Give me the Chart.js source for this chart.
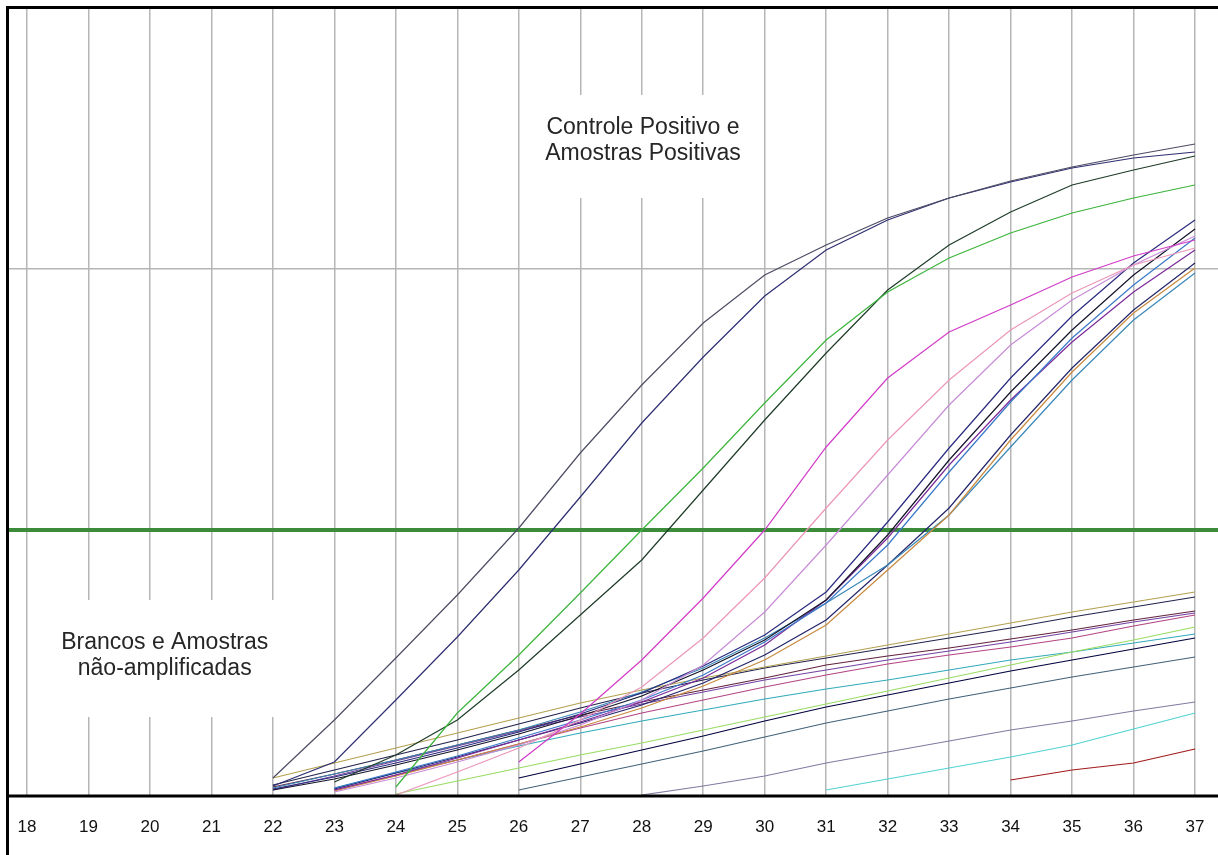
<!DOCTYPE html>
<html><head><meta charset="utf-8">
<script src="https://cdn.jsdelivr.net/npm/chart.js@4.4.0/dist/chart.umd.min.js"></script>
<style>html,body{margin:0;padding:0;background:#fff;overflow:hidden}</style>
</head><body>
<canvas id="c" width="1218" height="855" style="width:1218px;height:855px;display:block"></canvas>
<script>
// ---- axis / ticks ----
const cycleTicks = [18,19,20,21,22,23,24,25,26,27,28,29,30,31,32,33,34,35,36,37];
const xRange = [17.707, 37.374];
const yRange = [0, 786];
const gridLevels = [526];
const thresholdLevel = [265, 265];

// ---- curves (fluorescence, arbitrary units), one value per cycle from its start cycle ----
const posA  = [17,75,137,200,267,342,410,472,520,550,577,597,614,628,640,651];
const posB  = [9,33,95,158,225,298,372,438,499,545,575,597,613,627,637,643];
const posC  = [8,82,140,202,265,327,392,455,503,537,562,582,597,610];
const posD  = [13,40,75,125,180,235,305,375,442,505,550,583,610,625,639];
const midM1 = [33,81,135,197,265,348,417,463,490,518,539,555];
const midM2 = [0,23,47,75,108,157,217,287,355,415,465,502,530,547];
const midM3 = [3,17,33,50,70,95,130,183,250,320,390,450,495,530,559];
const midN1 = [6,18,32,47,63,81,102,129,160,203,273,347,417,479,532,575];
const midN2 = [5,16,30,45,61,79,99,125,155,195,260,335,403,465,520,566];
const midN3 = [7,23,39,57,75,95,120,153,192,250,323,393,457,510,557];
const midN4 = [5,20,37,55,73,93,117,150,195,257,330,395,453,503,545];
const midN5 = [4,19,35,51,68,87,109,135,170,225,280,355,423,482,527];
const midN6 = [7,21,35,50,65,83,103,127,157,192,230,280,348,415,475,522];
const midN7 = [6,22,38,55,72,90,112,140,175,230,287,360,427,485,532];
const lowL1 = [17,32,47,62,77,92,105,117,128,139,150,161,172,183,193,203];
const lowL2 = [10,25,40,55,71,87,102,115,127,137,147,157,167,178,188,198];
const lowL3 = [8,21,35,50,65,80,93,105,117,130,139,147,156,165,175,184];
const lowL4 = [5,19,34,49,64,78,91,103,115,125,135,144,153,163,173,182];
const lowL5 = [5,20,35,51,67,82,95,108,120,131,140,148,157,169,180];
const lowL6 = [1,14,27,40,52,65,78,91,104,117,130,143,155,168];
const lowL7 = [7,22,35,49,62,74,85,96,106,115,125,135,143,152,161];
const lowL8 = [17,31,45,59,74,88,100,112,124,135,146,157];
const lowL9 = [5,18,31,44,58,72,84,96,107,118,128,138];
const lowL10 = [0,9,19,32,43,54,65,74,84,93];
const lowL11 = [5,16,27,38,50,66,82];
const lowL12 = [15,25,32,46];

const curves = [posA,posB,posC,posD,midM1,midM2,midM3,midN1,midN2,midN3,midN4,midN5,midN6,midN7,
                lowL1,lowL2,lowL3,lowL4,lowL5,lowL6,lowL7,lowL8,lowL9,lowL10,lowL11,lowL12];
const startCycles = [22,22,24,23,26,24,23,22,22,23,23,23,22,23,
                     22,22,22,22,23,24,23,26,26,28,31,34];
const curveColors = ['#4c4c64','#2e2e72','#3cb43c','#1e3c28','#d23cc8','#eb96b9','#c88cd7','#2a2a7e','#14142a','#3a78c8','#7a2a9a','#c88a40','#3a88b8','#24246a',
                     '#b4a050','#22224e','#62223e','#7242a2','#b44484','#98dc64','#32aabb','#00003e','#426279','#827aa2','#52d2d2','#a21a1a'];

const upperNote = ['Controle Positivo e', 'Amostras Positivas'];
const lowerNote = ['Brancos e Amostras', 'não-amplificadas'];

const datasets = curves.map((vals, i) => ({
  data: vals.map((v, k) => ({x: startCycles[i] + k, y: v})),
  borderColor: curveColors[i], borderWidth: 1.2, pointRadius: 0, tension: 0, fill: false
}));
datasets.push({
  data: xRange.map((x, k) => ({x, y: thresholdLevel[k]})),
  borderColor: '#3b8b3b', borderWidth: 4, pointRadius: 0, fill: false
});

const notesPlugin = {
  id: 'notes',
  beforeDatasetsDraw(chart) {
    const {ctx, scales: {x, y}} = chart;
    ctx.save();
    ctx.font = '23px "Liberation Sans", Arial, sans-serif';
    ctx.fillStyle = '#fff';
    const box = (x0, x1, y0, y1) => {
      const a = x.getPixelForValue(x0), b = x.getPixelForValue(x1);
      const c = y.getPixelForValue(y0), d = y.getPixelForValue(y1);
      ctx.fillRect(a, c, b - a, d - c);
    };
    box(26.2, 29.8, 700, 597);
    box(18.2, 22.3, 195, 78);
    ctx.fillStyle = '#262626';
    ctx.textAlign = 'center'; ctx.textBaseline = 'middle';
    const cx1 = x.getPixelForValue(28.02);
    ctx.fillText(upperNote[0], cx1, y.getPixelForValue(667));
    ctx.fillText(upperNote[1], cx1, y.getPixelForValue(641));
    const cx2 = x.getPixelForValue(20.24);
    ctx.fillText(lowerNote[0], cx2, y.getPixelForValue(152));
    ctx.fillText(lowerNote[1], cx2, y.getPixelForValue(126));
    ctx.restore();
  },
  afterDatasetsDraw(chart) {
    const {ctx, chartArea: a} = chart;
    ctx.save();
    ctx.strokeStyle = '#000';
    ctx.lineWidth = 3;
    ctx.beginPath();
    ctx.moveTo(a.left - 1.5, a.top - 3); ctx.lineTo(a.left - 1.5, chart.height);
    ctx.moveTo(a.left - 3, a.top - 1.5); ctx.lineTo(chart.width, a.top - 1.5);
    ctx.moveTo(a.left - 3, a.bottom + 1); ctx.lineTo(chart.width, a.bottom + 1);
    ctx.stroke();
    ctx.restore();
  }
};

new Chart(document.getElementById('c'), {
  type: 'line',
  data: {datasets},
  options: {
    responsive: false, animation: false, devicePixelRatio: 1,
    layout: {padding: {left: 9, top: 9, right: 0, bottom: 0}},
    plugins: {legend: {display: false}, tooltip: {enabled: false}},
    scales: {
      x: {
        type: 'linear', min: xRange[0], max: xRange[1],
        afterBuildTicks: s => { s.ticks = cycleTicks.map(v => ({value: v})); },
        afterFit: s => { s.height = 60; s.paddingLeft = 0; s.paddingRight = 0; },
        ticks: {font: {family: '"Liberation Sans", Arial, sans-serif', size: 17}, color: '#111', padding: 22, maxRotation: 0, autoSkip: false},
        grid: {color: '#b6b6b6', lineWidth: 1.5, drawTicks: false},
        border: {display: false}
      },
      y: {
        type: 'linear', min: yRange[0], max: yRange[1],
        afterBuildTicks: s => { s.ticks = gridLevels.map(v => ({value: v})); },
        afterFit: s => { s.width = 0; s.paddingTop = 0; s.paddingBottom = 0; },
        ticks: {display: false},
        grid: {color: '#b6b6b6', lineWidth: 1.5, drawTicks: false},
        border: {display: false}
      }
    }
  },
  plugins: [notesPlugin]
});
</script>
</body></html>
